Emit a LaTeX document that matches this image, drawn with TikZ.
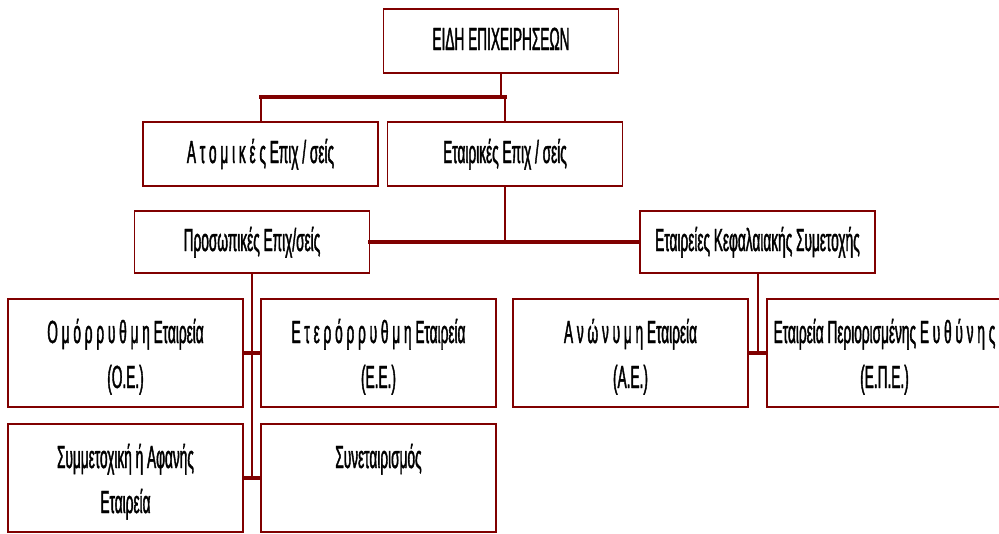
\documentclass[tikz,border=0pt]{standalone}
\usepackage{fontspec}
\setmainfont{Liberation Sans}[FakeStretch=0.427,FakeBold=1.2]
\newcommand\twoline[2]{\vtop{\baselineskip=45pt\halign{\hfil##\hfil\cr#1\cr#2\cr}}}
\definecolor{dred}{RGB}{128,0,0}
\begin{document}
\begin{tikzpicture}[x=1pt,y=-1pt,
  box/.style={draw=dred,line width=1.8pt,fill=white,rectangle,inner sep=0pt,
    minimum width=235pt,font=\fontsize{32}{45}\selectfont},
  one/.style={box,minimum height=64pt,text height=22pt,text depth=4pt},
  two/.style={box,minimum height=108pt,text height=25pt,text depth=45pt},
  hl/.style={draw=dred,line width=4pt,line cap=rect},
  vl/.style={draw=dred,line width=2pt}]
\useasboundingbox (0,0) rectangle (999,533);
\fill[white] (0,0) rectangle (999,533);
\clip (0,0) rectangle (999,533);
\node[one] (top) at (501,41) {ΕΙΔΗ ΕΠΙΧΕΙΡΗΣΕΩΝ};
\node[one] (atom) at (260.5,154) {Α τ ο μ ι κ έ ς Επιχ / σείς};
\node[one] (etair) at (505,154) {Εταιρικές Επιχ / σείς};
\node[one,minimum height=62pt] (pros) at (252,242) {Προσωπικές Επιχ/σείς};
\node[one,minimum height=62pt] (kef) at (757.5,242) {Εταιρείες Κεφαλαιακής Συμετοχής};
\node[two] (omor) at (125.5,353) {\twoline{Ο μ ό ρ ρ υ θ μ η Εταιρεία}{(Ο.Ε.)}};
\node[two] (eter) at (378.5,353) {\twoline{Ε τ ε ρ ό ρ ρ υ θ μ η Εταιρεία}{(Ε.Ε.)}};
\node[two] (symm) at (125.5,478) {\twoline{Συμμετοχική ή Αφανής}{Εταιρεία}};
\node[two] (syn) at (378.5,478) {\twoline{Συνεταιρισμός}{}};
\node[two] (anon) at (630.5,353) {\twoline{Α ν ώ ν υ μ η Εταιρεία}{(Α.Ε.)}};
\node[two] (epe) at (884.5,353) {\twoline{Εταιρεία Περιορισμένης Ε υ θ ύ ν η ς}{(Ε.Π.Ε.)}};
\coordinate (j1) at (501,97);
\draw[vl] (top.south) -- (top.south |- j1);
\draw[hl] (atom.north |- j1) -- (etair.north |- j1);
\draw[vl] (atom.north |- j1) -- (atom.north);
\draw[vl] (etair.north |- j1) -- (etair.north);
\draw[vl] (etair.south) -- (etair.south |- pros.east);
\draw[hl] (pros.east) -- (kef.west);
\draw[vl] (pros.south) -- (pros.south |- symm.east);
\draw[hl] (omor.east) -- (eter.west);
\draw[hl] (symm.east) -- (syn.west);
\draw[vl] (kef.south) -- (kef.south |- anon.east);
\draw[hl] (anon.east) -- (epe.west);
\end{tikzpicture}
\end{document}
